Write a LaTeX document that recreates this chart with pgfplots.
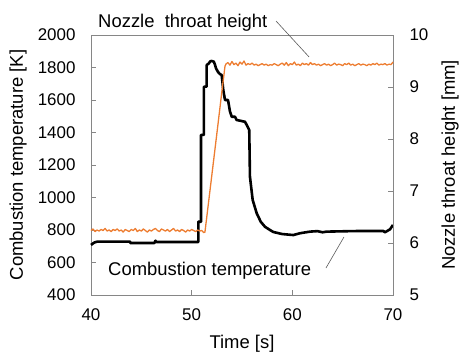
\documentclass[border=0pt]{standalone}
\usepackage{fontspec}
\setmainfont{Liberation Sans}
\usepackage{pgfplots}
\pgfplotsset{compat=1.18}
\definecolor{axgray}{RGB}{134,134,134}
\definecolor{xlorange}{RGB}{237,125,49}
\definecolor{leadgray}{RGB}{90,90,90}

\begin{document}
\begin{tikzpicture}
\begin{axis}[
  at={(91bp,59bp)}, anchor=south west,
  scale only axis, width=302bp, height=260bp,
  xmin=40, xmax=70, ymin=400, ymax=2000,
  xtick={40,50,60,70}, ytick={400,600,...,2000},
  xtick pos=bottom, ytick pos=left,
  tick align=inside,
  major tick length=5bp,
  axis line style={axgray, line width=0.9bp},
  tick style={axgray, line width=0.9bp},
  ticklabel style={font=\fontsize{17}{20}\selectfont},
  /pgf/number format/assume math mode=true,
  /pgf/number format/1000 sep={},
  xticklabel style={yshift=-10bp},
  yticklabel style={xshift=-12bp},
  every axis x label/.style={at={(axis description cs:0.5,-0.188)}, anchor=center, font=\fontsize{18.5}{22}\selectfont},
  every axis y label/.style={at={(axis description cs:-0.2417,0.5)}, rotate=90, anchor=center, font=\fontsize{18.5}{22}\selectfont},
  xlabel={Time [s]},
  ylabel={Combustion temperature [K]},
  clip=false,
]
\addplot[black, line width=2.6bp, line join=round] coordinates {
(40.0,708) (40.3,722) (40.6,728) (43.9,728) (43.9,720) (46.3,720) (46.4,734) (46.5,726)
(50.66,726) (50.66,851) (50.93,851) (50.93,1385) (51.22,1385) (51.22,1682) (51.49,1682)
(51.49,1815) (51.7,1825) (51.85,1838) (51.99,1840) (52.2,1836) (52.3,1820) (52.42,1795)
(52.62,1772) (52.8,1760) (52.98,1754) (53.14,1662) (53.31,1600) (53.61,1600) (53.81,1528)
(53.98,1497) (54.30,1497) (54.47,1477) (55.30,1466) (55.47,1446) (55.72,1415) (55.79,1128)
(56.06,985) (56.46,903) (56.86,851) (57.28,820) (57.78,800) (58.1,788) (59.0,775)
(60.1,769) (60.76,780) (61.75,790) (62.5,793) (63.0,786) (63.41,790) (65,792)
(66.72,794) (69.04,794) (69.2,786) (69.7,804) (70.0,831)
};
\node[anchor=base west, font=\fontsize{18.5}{22}\selectfont, inner sep=0pt] at (axis cs:40.70,2049) {Nozzle\ \ throat height};
\draw[leadgray, line width=0.6bp] (axis cs:58.38,2086) -- (axis cs:61.66,1865);
\node[anchor=base west, font=\fontsize{18.5}{22}\selectfont, inner sep=0pt] at (axis cs:41.69,517) {Combustion temperature};
\draw[leadgray, line width=0.6bp] (axis cs:63.34,566) -- (axis cs:65.13,757);
\end{axis}

\begin{axis}[
  at={(91bp,59bp)}, anchor=south west,
  scale only axis, width=302bp, height=260bp,
  xmin=40, xmax=70, ymin=5, ymax=10,
  axis x line=none, axis y line*=right,
  ytick={5,6,...,10},
  tick align=inside,
  major tick length=5bp,
  axis line style={axgray, line width=0.9bp, -},
  tick style={axgray, line width=0.9bp},
  ticklabel style={font=\fontsize{17}{20}\selectfont},
  /pgf/number format/assume math mode=true,
  yticklabel style={xshift=13bp},
  every axis y label/.style={at={(axis description cs:1.189,0.5)}, rotate=90, anchor=center, font=\fontsize{18.5}{22}\selectfont},
  ylabel={Nozzle throat height [mm]},
  clip=false,
]
\addplot[xlorange, line width=1.3bp, line join=round] table {
t h
40.0 6.24
40.2 6.27
40.4 6.22
40.6 6.25
40.8 6.23
41.0 6.26
41.2 6.24
41.4 6.28
41.6 6.23
41.8 6.25
42.0 6.22
42.2 6.26
42.4 6.24
42.6 6.27
42.8 6.23
43.0 6.25
43.2 6.21
43.4 6.26
43.6 6.24
43.8 6.22
44.0 6.26
44.2 6.24
44.4 6.28
44.6 6.22
44.8 6.25
45.0 6.23
45.2 6.27
45.4 6.24
45.6 6.21
45.8 6.25
46.0 6.23
46.2 6.26
46.4 6.28
46.6 6.24
46.8 6.22
47.0 6.27
47.2 6.25
47.4 6.23
47.6 6.26
47.8 6.22
48.0 6.25
48.2 6.28
48.4 6.23
48.6 6.25
48.8 6.22
49.0 6.26
49.2 6.24
49.4 6.21
49.6 6.25
49.8 6.23
50.0 6.26
50.2 6.24
50.4 6.22
50.6 6.25
50.8 6.23
51.0 6.24
51.2 6.20
51.32 6.21
52.0 7.30
52.5 8.10
53.0 8.91
53.31 9.40
53.4 9.44
53.6 9.47
53.8 9.42
54.0 9.49
54.2 9.43
54.4 9.46
54.6 9.41
54.8 9.48
55.0 9.44
55.2 9.50
55.4 9.42
55.6 9.45
55.8 9.43
56.0 9.46
56.2 9.42
56.4 9.44
56.6 9.41
56.8 9.43
57.0 9.45
57.2 9.42
57.4 9.44
57.6 9.41
57.8 9.43
58.0 9.42
58.2 9.45
58.4 9.43
58.6 9.41
58.8 9.44
59.0 9.46
59.2 9.42
59.4 9.47
59.6 9.41
59.8 9.45
60.0 9.43
60.2 9.48
60.4 9.42
60.6 9.44
60.8 9.41
61.0 9.46
61.2 9.43
61.4 9.45
61.6 9.42
61.8 9.47
62.0 9.43
62.2 9.45
62.4 9.42
62.6 9.44
62.8 9.41
63.0 9.43
63.2 9.45
63.4 9.42
63.6 9.44
63.8 9.41
64.0 9.43
64.2 9.46
64.4 9.42
64.6 9.44
64.8 9.43
65.0 9.41
65.2 9.45
65.4 9.43
65.6 9.46
65.8 9.42
66.0 9.44
66.2 9.41
66.4 9.43
66.6 9.45
66.8 9.42
67.0 9.44
67.2 9.43
67.4 9.41
67.6 9.44
67.8 9.42
68.0 9.45
68.2 9.43
68.4 9.46
68.6 9.42
68.8 9.44
69.0 9.43
69.2 9.45
69.4 9.42
69.6 9.44
69.8 9.43
70.0 9.48
};
\end{axis}
\pgfresetboundingbox
\path (0,0) rectangle (459bp,354bp);
\end{tikzpicture}
\end{document}
